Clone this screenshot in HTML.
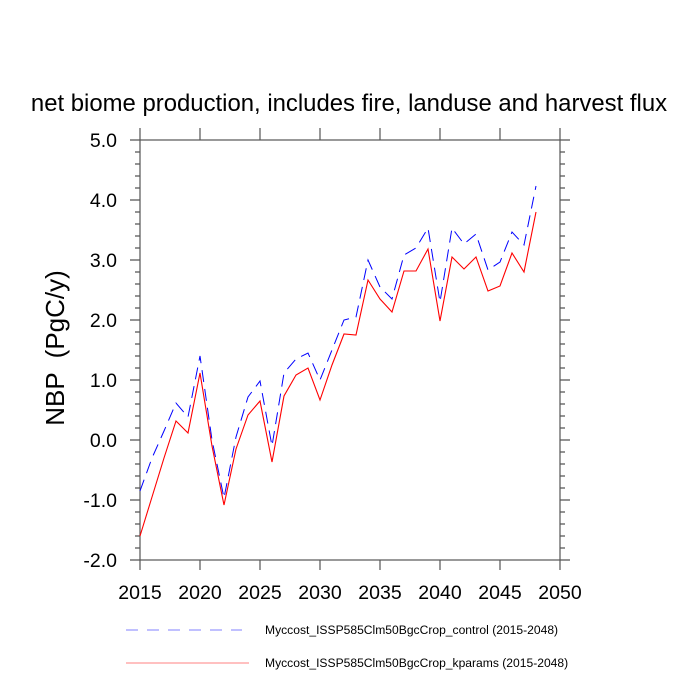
<!DOCTYPE html>
<html><head><style>body{margin:0;background:#fff}svg{display:block}</style></head><body>
<svg width="700" height="700" xmlns="http://www.w3.org/2000/svg" font-family="Liberation Sans, sans-serif">
<text x="349" y="111" font-size="23.9" text-anchor="middle">net biome production, includes fire, landuse and harvest flux</text>
<g stroke="#555" stroke-width="1.2" fill="none">
<rect x="140" y="140" width="420" height="420"/>
<path d="M130 140H140M130 200H140M130 260H140M130 320H140M130 380H140M130 440H140M130 500H140M130 560H140
M560 140H570M560 200H570M560 260H570M560 320H570M560 380H570M560 440H570M560 500H570M560 560H570"/>
<path d="M135 152H140M135 164H140M135 176H140M135 188H140M135 212H140M135 224H140M135 236H140M135 248H140M135 272H140M135 284H140M135 296H140M135 308H140M135 332H140M135 344H140M135 356H140M135 368H140M135 392H140M135 404H140M135 416H140M135 428H140M135 452H140M135 464H140M135 476H140M135 488H140M135 512H140M135 524H140M135 536H140M135 548H140
M560 152H565M560 164H565M560 176H565M560 188H565M560 212H565M560 224H565M560 236H565M560 248H565M560 272H565M560 284H565M560 296H565M560 308H565M560 332H565M560 344H565M560 356H565M560 368H565M560 392H565M560 404H565M560 416H565M560 428H565M560 452H565M560 464H565M560 476H565M560 488H565M560 512H565M560 524H565M560 536H565M560 548H565"/>
<path d="M140 560V570M200 560V570M260 560V570M320 560V570M380 560V570M440 560V570M500 560V570M560 560V570
M140 140V128M200 140V128M260 140V128M320 140V128M380 140V128M440 140V128M500 140V128M560 140V128"/>
</g>
<g font-size="19.5" text-anchor="end">
<text x="117" y="147">5.0</text><text x="117" y="207">4.0</text><text x="117" y="267">3.0</text><text x="117" y="327">2.0</text><text x="117" y="387">1.0</text><text x="117" y="447">0.0</text><text x="117" y="507">-1.0</text><text x="117" y="567">-2.0</text>
</g>
<g font-size="19.5" text-anchor="middle">
<text x="140" y="599">2015</text><text x="200" y="599">2020</text><text x="260" y="599">2025</text><text x="320" y="599">2030</text><text x="380" y="599">2035</text><text x="440" y="599">2040</text><text x="500" y="599">2045</text><text x="560" y="599">2050</text>
</g>
<text transform="translate(64 348) rotate(-90)" font-size="26" text-anchor="middle" xml:space="preserve" style="white-space:pre">NBP  (PgC/y)</text>
<polyline fill="none" stroke="#00f" stroke-width="1" stroke-dasharray="12,7" points="140,491 152,458 164,431 176,403 188,417 200,356 212,440 224,498 236,437 248,397 260,381 272,446 284,373 296,359 308,353 320,380 332,350 344,320 356,317 368,260 380,287 392,299 404,255 416,248 428,228 440,302 452,228 464,244 476,234 488,270 500,262 512,232 524,245 536,186"/>
<polyline fill="none" stroke="#f00" stroke-width="1.1" points="140,536 152,497 164,458 176,421 188,433 200,373 212,446 224,505 236,449 248,415 260,401 272,462 284,396 296,375 308,368 320,400 332,365 344,334 356,335 368,280 380,299 392,312 404,271 416,271 428,249 440,321 452,257 464,269 476,257 488,291 500,286 512,253 524,272 536,212"/>
<line x1="126" y1="630" x2="242" y2="630" stroke="#8080ff" stroke-width="1" stroke-dasharray="12,9"/>
<line x1="126" y1="663" x2="249" y2="663" stroke="#ff8080" stroke-width="1"/>
<g font-size="12.1"><text x="265" y="634">Myccost_ISSP585Clm50BgcCrop_control (2015-2048)</text><text x="265" y="667">Myccost_ISSP585Clm50BgcCrop_kparams (2015-2048)</text></g>
</svg>
</body></html>
